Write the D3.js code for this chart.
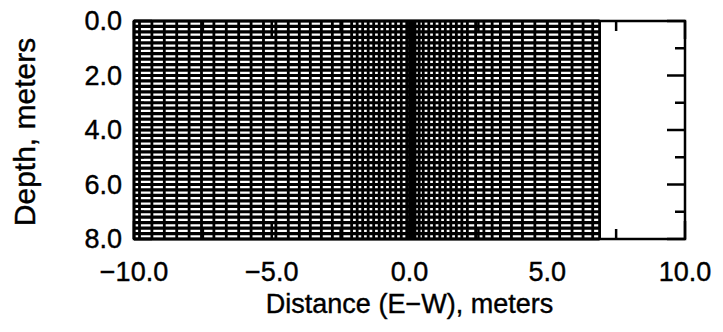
<!DOCTYPE html>
<html>
<head>
<meta charset="utf-8">
<script src="https://cdn.jsdelivr.net/npm/d3@7"></script>
<style>
  html, body { margin: 0; padding: 0; background: #fff; }
  text { font-family: "Liberation Sans", Arial, sans-serif; fill: #000; stroke: #000; stroke-width: 0.4; }
</style>
</head>
<body>
<div id="chart"></div>
<script>
// mesh column positions (distance, m)
const meshX = [-10.0, -9.8, -9.35, -8.9, -8.45, -8.0, -7.55, -7.1, -6.65, -6.2, -5.75, -5.3,
  -4.85, -4.4, -4.0, -3.6, -3.2, -2.8, -2.45, -2.1, -1.9, -1.7, -1.5, -1.3, -1.1, -0.9,
  -0.7, -0.5, -0.3, -0.1, 0.0, 0.05, 0.1, 0.15, 0.2, 0.35, 0.5, 0.7, 0.9, 1.1, 1.3, 1.5,
  1.7, 1.9, 2.1, 2.4, 2.7, 3.0, 3.3, 3.7, 4.1, 4.55, 5.0, 5.45, 5.9, 6.3, 6.65, 6.9];
// mesh row positions (depth, m)
const meshY = [0.0, 0.2, 0.4, 0.6, 0.8, 1.0, 1.2, 1.4, 1.6, 1.8, 2.0, 2.2, 2.4, 2.6, 2.8,
  3.0, 3.2, 3.4, 3.6, 3.8, 4.0, 4.2, 4.4, 4.6, 4.8, 5.0, 5.2, 5.4, 5.6, 5.8, 6.0, 6.2,
  6.4, 6.6, 6.8, 7.0, 7.2, 7.4, 7.6, 7.8, 8.0];
const xTicks = [-10, -5, 0, 5, 10];
const xMinor = [-7.5, -2.5, 2.5, 7.5];
const yTicks = [0, 2, 4, 6, 8];
const yMinor = [1, 3, 5, 7];

const W = 723, H = 332;
const margin = {top: 21, right: 38, bottom: 93, left: 134};
const width = W - margin.left - margin.right;
const height = H - margin.top - margin.bottom;

const svg = d3.select("#chart").append("svg")
  .attr("width", W).attr("height", H);
const g = svg.append("g").attr("transform", `translate(${margin.left},${margin.top})`);

const x = d3.scaleLinear().domain([-10, 10]).range([0, width]);
const y = d3.scaleLinear().domain([0, 8]).range([0, height]);

const xMin = d3.min(meshX), xMax = d3.max(meshX);
const yMin = d3.min(meshY), yMax = d3.max(meshY);

// mesh
const mesh = g.append("g");
mesh.selectAll(".row").data(meshY).enter().append("line")
  .attr("x1", x(xMin)).attr("x2", x(xMax))
  .attr("y1", d => y(d)).attr("y2", d => y(d))
  .attr("stroke", "#000").attr("stroke-width", 3.2);
mesh.selectAll(".col").data(meshX).enter().append("line")
  .attr("x1", d => x(d)).attr("x2", d => x(d))
  .attr("y1", y(yMin)).attr("y2", y(yMax))
  .attr("stroke", "#000").attr("stroke-width", 2.8);

// frame
g.append("rect").attr("x", 0).attr("y", 0).attr("width", width).attr("height", height)
  .attr("fill", "none").attr("stroke", "#000").attr("stroke-width", 2.5);

// inward ticks
const ticks = g.append("g").attr("stroke", "#000").attr("stroke-width", 2.5);
const tk = (arr, len) => {
  arr.forEach(v => {
    ticks.append("line").attr("x1", x(v)).attr("x2", x(v)).attr("y1", 0).attr("y2", len);
    ticks.append("line").attr("x1", x(v)).attr("x2", x(v)).attr("y1", height).attr("y2", height - len);
  });
};
tk(xTicks, 18); tk(xMinor, 10);
const tky = (arr, len) => {
  arr.forEach(v => {
    ticks.append("line").attr("y1", y(v)).attr("y2", y(v)).attr("x1", 0).attr("x2", len);
    ticks.append("line").attr("y1", y(v)).attr("y2", y(v)).attr("x1", width).attr("x2", width - len);
  });
};
tky(yTicks, 18); tky(yMinor, 10);

// tick labels
g.selectAll(".xl").data(xTicks).enter().append("text")
  .attr("x", d => x(d)).attr("y", height + 42)
  .attr("text-anchor", "middle").style("font-size", "27px")
  .text(d => d3.format(".1f")(d).replace("-", "\u2212"));
g.selectAll(".yl").data(yTicks).enter().append("text")
  .attr("x", -12).attr("y", d => y(d) + 9)
  .attr("text-anchor", "end").style("font-size", "27px")
  .text(d => d3.format(".1f")(d));

// axis titles
g.append("text").attr("x", width / 2).attr("y", height + 74)
  .attr("text-anchor", "middle").style("font-size", "27px")
  .text("Distance (E\u2212W), meters");
g.append("text")
  .attr("transform", `translate(${-margin.left + 35},${height / 2 + 2}) rotate(-90)`)
  .attr("text-anchor", "middle").style("font-size", "30px")
  .text("Depth, meters");
</script>
</body>
</html>
